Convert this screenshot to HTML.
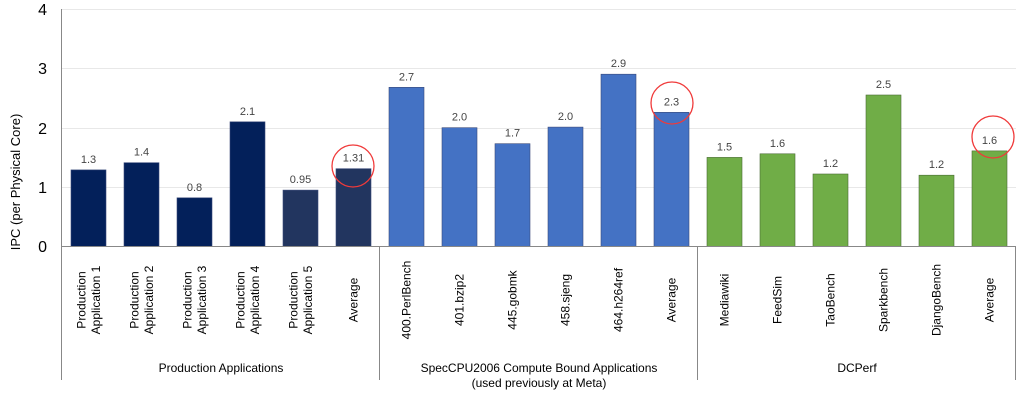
<!DOCTYPE html>
<html><head><meta charset="utf-8"><style>body{margin:0;background:#fff}svg{display:block;font-family:"Liberation Sans",sans-serif}</style></head><body>
<svg width="1023" height="400" viewBox="0 0 1023 400">
<g stroke="#e8e8e8" stroke-width="1">
<line x1="62" x2="1016" y1="187.5" y2="187.5"/><line x1="62" x2="1016" y1="128.5" y2="128.5"/><line x1="62" x2="1016" y1="68.5" y2="68.5"/><line x1="62" x2="1016" y1="9.5" y2="9.5"/>
</g>
<g font-size="16" fill="#000" text-anchor="end">
<text x="47" y="252">0</text><text x="47" y="193">1</text><text x="47" y="134">2</text><text x="47" y="74">3</text><text x="47" y="15">4</text>
</g>
<text transform="translate(20,182) rotate(-90)" font-size="13" text-anchor="middle">IPC (per Physical Core)</text>
<g stroke-width="0.6">
<rect x="71" y="169.9" width="35" height="76.6" fill="#03205a" stroke="#3a4a7a"/>
<rect x="124" y="162.7" width="35" height="83.8" fill="#03205a" stroke="#3a4a7a"/>
<rect x="177" y="197.8" width="35" height="48.7" fill="#03205a" stroke="#3a4a7a"/>
<rect x="230" y="121.8" width="35" height="124.7" fill="#03205a" stroke="#3a4a7a"/>
<rect x="283" y="190.1" width="35" height="56.4" fill="#22355f" stroke="#3a4a7a"/>
<rect x="336" y="168.7" width="35" height="77.8" fill="#22355f" stroke="#3a4a7a"/>
<rect x="389" y="87.3" width="35" height="159.2" fill="#4472c4" stroke="#3a4a7a"/>
<rect x="442" y="127.7" width="35" height="118.8" fill="#4472c4" stroke="#3a4a7a"/>
<rect x="495" y="143.7" width="35" height="102.8" fill="#4472c4" stroke="#3a4a7a"/>
<rect x="548" y="127.1" width="35" height="119.4" fill="#4472c4" stroke="#3a4a7a"/>
<rect x="601" y="74.2" width="35" height="172.3" fill="#4472c4" stroke="#3a4a7a"/>
<rect x="654" y="112.3" width="35" height="134.2" fill="#4472c4" stroke="#3a4a7a"/>
<rect x="707" y="157.4" width="35" height="89.1" fill="#70ad47" stroke="#4a6b35"/>
<rect x="760" y="153.8" width="35" height="92.7" fill="#70ad47" stroke="#4a6b35"/>
<rect x="813" y="174" width="35" height="72.5" fill="#70ad47" stroke="#4a6b35"/>
<rect x="866" y="95" width="35" height="151.5" fill="#70ad47" stroke="#4a6b35"/>
<rect x="919" y="175.2" width="35" height="71.3" fill="#70ad47" stroke="#4a6b35"/>
<rect x="972" y="150.9" width="35" height="95.6" fill="#70ad47" stroke="#4a6b35"/>
</g>
<g font-size="11" fill="#444" text-anchor="middle">
<text x="88.5" y="162.9">1.3</text><text x="141.5" y="155.7">1.4</text><text x="194.5" y="190.8">0.8</text><text x="247.5" y="114.8">2.1</text><text x="300.5" y="183.1">0.95</text><text x="353.5" y="161.7">1.31</text>
<text x="406.5" y="80.3">2.7</text><text x="459.5" y="120.7">2.0</text><text x="512.5" y="136.7">1.7</text><text x="565.5" y="120.1">2.0</text><text x="618.5" y="67.2">2.9</text><text x="671.5" y="105.3">2.3</text>
<text x="724.5" y="150.4">1.5</text><text x="777.5" y="146.8">1.6</text><text x="830.5" y="167">1.2</text><text x="883.5" y="88">2.5</text><text x="936.5" y="168.2">1.2</text><text x="989.5" y="143.9">1.6</text>
</g>
<g font-size="12" text-anchor="middle">
<text transform="translate(85.25,300) rotate(-90)">Production</text><text transform="translate(99.75,300) rotate(-90)">Application 1</text>
<text transform="translate(138.25,300) rotate(-90)">Production</text><text transform="translate(152.75,300) rotate(-90)">Application 2</text>
<text transform="translate(191.25,300) rotate(-90)">Production</text><text transform="translate(205.75,300) rotate(-90)">Application 3</text>
<text transform="translate(244.25,300) rotate(-90)">Production</text><text transform="translate(258.75,300) rotate(-90)">Application 4</text>
<text transform="translate(297.25,300) rotate(-90)">Production</text><text transform="translate(311.75,300) rotate(-90)">Application 5</text>
<text transform="translate(357.5,300) rotate(-90)">Average</text>
<text transform="translate(410.5,300) rotate(-90)">400.PerlBench</text>
<text transform="translate(463.5,300) rotate(-90)">401.bzip2</text>
<text transform="translate(516.5,300) rotate(-90)">445.gobmk</text>
<text transform="translate(569.5,300) rotate(-90)">458.sjeng</text>
<text transform="translate(622.5,300) rotate(-90)">464.h264ref</text>
<text transform="translate(675.5,300) rotate(-90)">Average</text>
<text transform="translate(728.5,300) rotate(-90)">Mediawiki</text>
<text transform="translate(781.5,300) rotate(-90)">FeedSim</text>
<text transform="translate(834.5,300) rotate(-90)">TaoBench</text>
<text transform="translate(887.5,300) rotate(-90)">Sparkbench</text>
<text transform="translate(940.5,300) rotate(-90)">DjangoBench</text>
<text transform="translate(993.5,300) rotate(-90)">Average</text>
</g>
<g stroke="#888" stroke-width="1">
<line x1="61.5" y1="9" x2="61.5" y2="380"/>
<line x1="62" y1="246.5" x2="1016" y2="246.5"/>
<line x1="379.5" y1="246" x2="379.5" y2="380"/>
<line x1="697.5" y1="246" x2="697.5" y2="380"/>
<line x1="1015.5" y1="246" x2="1015.5" y2="380"/>
</g>
<g font-size="12" text-anchor="middle">
<text x="221" y="372">Production Applications</text>
<text x="539" y="372">SpecCPU2006 Compute Bound Applications</text>
<text x="539" y="387">(used previously at Meta)</text>
<text x="857" y="372">DCPerf</text>
</g>
<g fill="none" stroke="#f03a3a" stroke-width="1.3">
<circle cx="353" cy="166" r="21"/><circle cx="672" cy="103" r="21"/><circle cx="993" cy="137" r="21"/>
</g>
</svg>
</body></html>
